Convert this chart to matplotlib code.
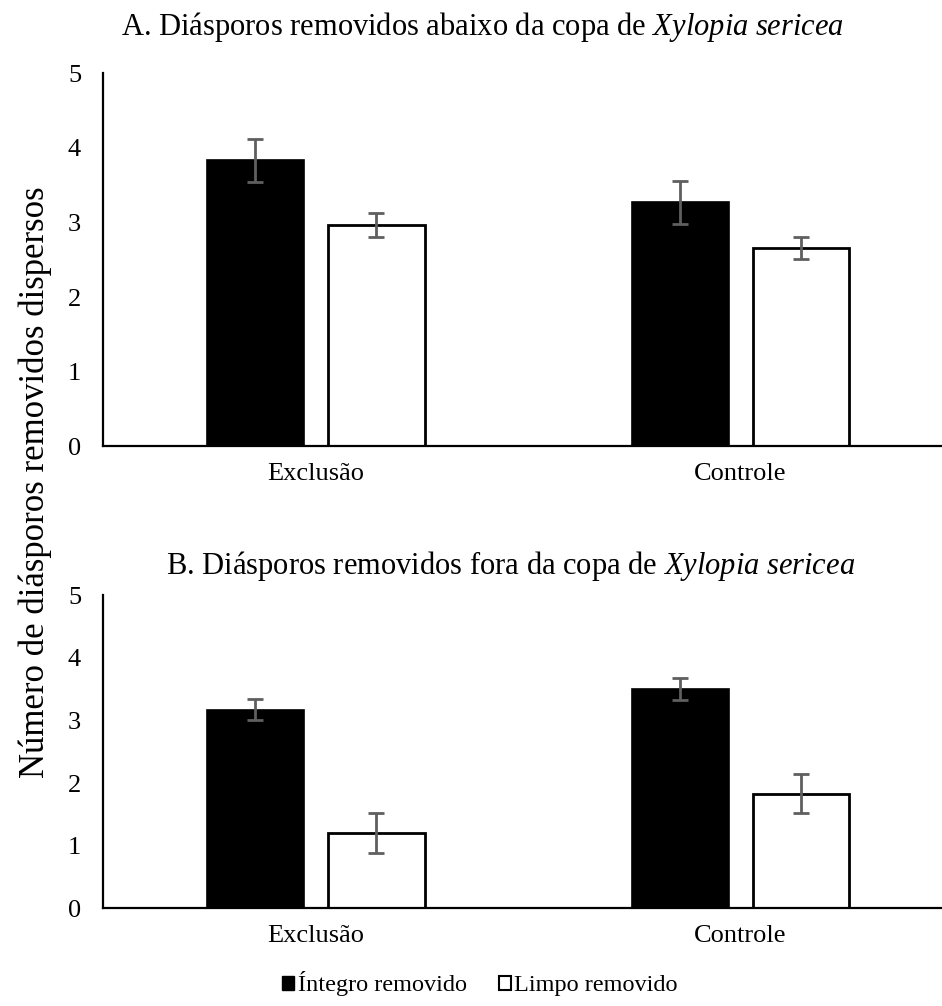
import matplotlib
matplotlib.use("Agg")
import matplotlib.pyplot as plt
from matplotlib.patches import Patch
import numpy as np

plt.rcParams['font.family'] = ['Liberation Serif', 'DejaVu Serif']
plt.rcParams['mathtext.fontset'] = 'custom'
plt.rcParams['mathtext.rm'] = 'Liberation Serif'
plt.rcParams['mathtext.it'] = 'Liberation Serif:italic'

categories = ["Exclusão", "Controle"]
series_names = ["Íntegro removido", "Limpo removido"]

# Panel A: below the canopy
a_integro = [3.83, 3.27]
a_integro_se = [0.29, 0.29]
a_limpo = [2.96, 2.66]
a_limpo_se = [0.16, 0.15]

# Panel B: outside the canopy
b_integro = [3.17, 3.50]
b_integro_se = [0.17, 0.17]
b_limpo = [1.20, 1.83]
b_limpo_se = [0.32, 0.31]

titles = ["A. Diásporos removidos abaixo da copa de $\\it{Xylopia\\ sericea}$",
          "B. Diásporos removidos fora da copa de $\\it{Xylopia\\ sericea}$"]
yticks = [0, 1, 2, 3, 4, 5]
ylabel = "Número de diásporos removidos dispersos"

fig = plt.figure(figsize=(9.42, 10.06), dpi=100)
left, right = 0.1097, 1.0
axA = fig.add_axes([left, 0.5562, right - left, 0.9274 - 0.5562])
axB = fig.add_axes([left, 0.0971, right - left, 0.4085 - 0.0971])

x = np.arange(len(categories))
w = 0.228
off = 0.142
errc = '#5f5f5f'
tfs = 19

for ax, ti, integ, integ_se, limpo, limpo_se in [
    (axA, titles[0], a_integro, a_integro_se, a_limpo, a_limpo_se),
    (axB, titles[1], b_integro, b_integro_se, b_limpo, b_limpo_se)]:
    ax.bar(x - off, integ, w, color='black', edgecolor='black', linewidth=1.2, zorder=2)
    ax.bar(x + off, limpo, w, color='white', edgecolor='black', linewidth=2.0, zorder=2)
    ax.errorbar(x - off, integ, yerr=integ_se, fmt='none', ecolor=errc,
                elinewidth=2, capsize=5.5, capthick=2, zorder=3)
    ax.errorbar(x + off, limpo, yerr=limpo_se, fmt='none', ecolor=errc,
                elinewidth=2, capsize=5.5, capthick=2, zorder=3)
    ax.set_ylim(0, 5)
    ax.set_xlim(-0.5, 1.474)
    ax.set_yticks(yticks)
    ax.set_yticklabels([str(t) for t in yticks], fontsize=tfs)
    ax.set_xticks(x)
    ax.set_xticklabels(categories, fontsize=tfs)
    ax.tick_params(axis='both', length=0)
    ax.tick_params(axis='y', pad=16)
    ax.tick_params(axis='x', pad=12)
    for s in ['top', 'right']:
        ax.spines[s].set_visible(False)
    for s in ['left', 'bottom']:
        ax.spines[s].set_linewidth(1.6)
        ax.spines[s].set_color('black')

fig.text(483 / 942, 1 - 27 / 1006, titles[0], ha='center', va='center', fontsize=22)
fig.text(511 / 942, 1 - 566 / 1006, titles[1], ha='center', va='center', fontsize=22)
fig.text(35 / 942, 1 - 482 / 1006, ylabel, rotation=90, ha='center', va='center', fontsize=25)

handles = [Patch(facecolor='black', edgecolor='black', label=series_names[0]),
           Patch(facecolor='white', edgecolor='black', linewidth=1.5, label=series_names[1])]
fig.legend(handles=handles, loc='center', bbox_to_anchor=(480 / 942, 1 - 984 / 1006), ncol=2,
           frameon=False, fontsize=17.5, handlelength=0.5, handleheight=0.5,
           handletextpad=0.15, columnspacing=1.3)

fig.savefig("out.png", dpi=100)
